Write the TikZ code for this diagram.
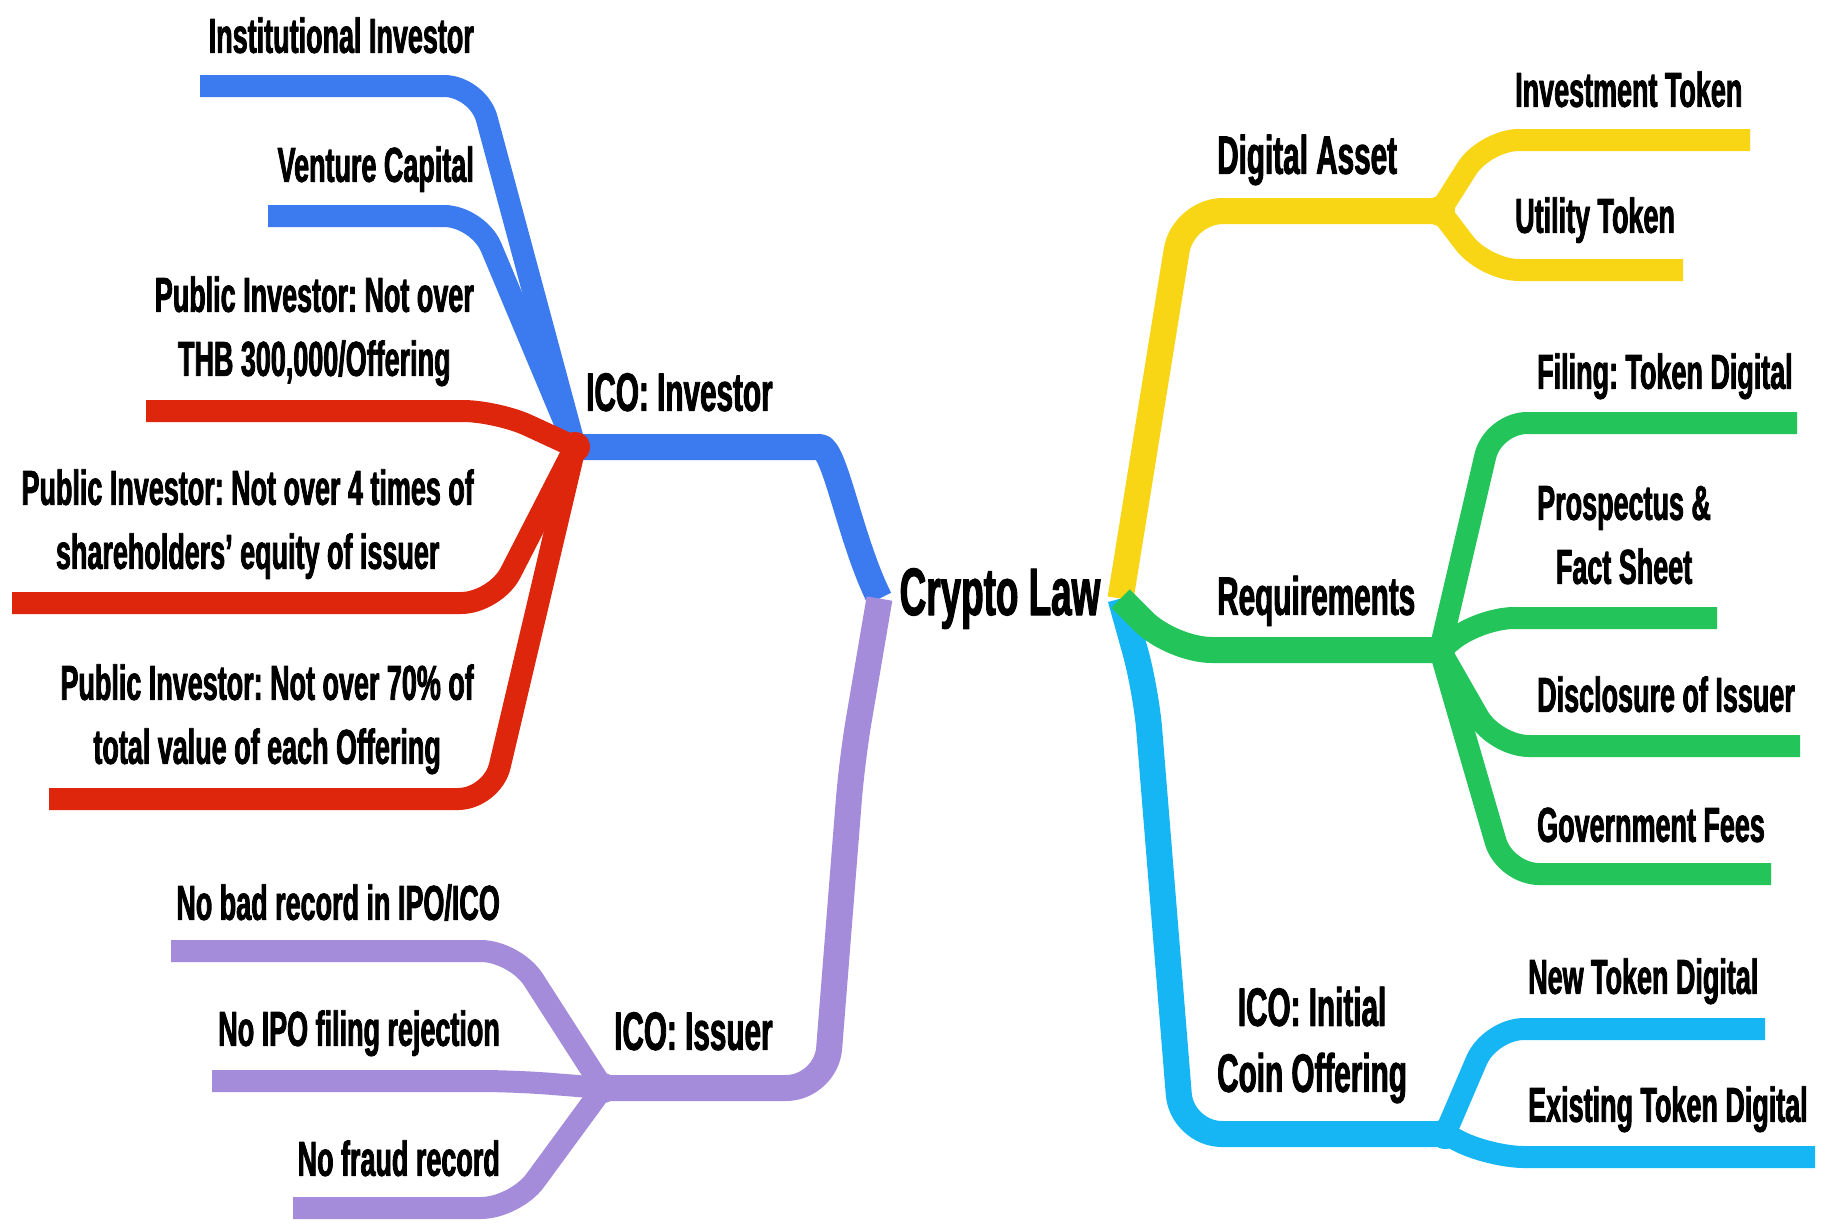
\documentclass[tikz,border=0pt]{standalone}
\usepackage{fontspec}
\setmainfont{Liberation Sans}[FakeStretch=0.55, BoldFeatures={FakeBold=1.6}]
\frenchspacing
\usetikzlibrary{positioning}
\definecolor{invblue}{RGB}{60,122,240}
\definecolor{invred}{RGB}{221,38,12}
\definecolor{isslilac}{RGB}{165,140,218}
\definecolor{assetyellow}{RGB}{248,214,22}
\definecolor{reqgreen}{RGB}{35,196,90}
\definecolor{icocyan}{RGB}{22,182,245}
% one child line: colour, junction, bend offset, free end
\newcommand\twig[4]{\draw[twig, #1] (#2) -- ([xshift=#3]#2 |- #4) -- (#4);}

\begin{document}
\begin{tikzpicture}[x=1pt, y=-1pt, line join=round,
					limb/.style={line width=26pt, rounded corners=40pt,
						preaction={draw=black!6, transform canvas={xshift=2pt,yshift=-7pt}}},
					twig/.style={line width=22pt, rounded corners=34pt,
						preaction={draw=black!6, transform canvas={xshift=2pt,yshift=-7pt}}},
					knot/.style={circle, inner sep=0pt, minimum size=30pt, fill=#1},
					leaf/.style={font=\fontsize{49}{64}\selectfont\bfseries, inner sep=0pt, text depth=0pt, align=center},
					topic/.style={font=\fontsize{54}{66}\selectfont\bfseries, inner sep=0pt, text depth=0pt, align=center}]
	
	\fill[white] (0,0) rectangle (1829,1227);
	\useasboundingbox (0,0) rectangle (1829,1227);
	
	% centre
	\node (law) [font=\fontsize{67}{70}\selectfont\bfseries, inner sep=0pt, anchor=base] at (1000,615) {Crypto Law};
	\coordinate (law-l) at ([xshift=-20]law.west);
	\coordinate (law-r) at ([xshift=20]law.east);
	
	% junctions
	\coordinate (inv-j) at (575,447);
	\coordinate (iss-j) at (603,1088);
	\coordinate (da-j) at (1440,211);
	\coordinate (req-j) at (1440,650);
	\coordinate (ico-j) at (1445,1134);
	
	% free ends
	\coordinate (inst-e) at (200,86);
	\coordinate (vc-e) at (268,216);
	\coordinate (thb-e) at (146,411);
	\coordinate (four-e) at (12,603);
	\coordinate (pct-e) at (49,799);
	\coordinate (bad-e) at (171,951);
	\coordinate (rej-e) at (212,1081);
	\coordinate (fraud-e) at (293,1208);
	\coordinate (itok-e) at (1750,140);
	\coordinate (utok-e) at (1683,270);
	\coordinate (fil-e) at (1797,423);
	\coordinate (pro-e) at (1717,618);
	\coordinate (dis-e) at (1800,746);
	\coordinate (gov-e) at (1771,874);
	\coordinate (new-e) at (1765,1029);
	\coordinate (old-e) at (1815,1157);
	
	% main branches
	\draw[limb, invblue] (law-l) .. controls (850,540) and (835,447) .. (780,447) -- (inv-j);
	\draw[limb, isslilac] (law-l) -- (852,760) -- (826,1088) -- (iss-j);
	\draw[limb, icocyan] (law-r) -- (1146,690) -- (1182,1134) -- (ico-j);
	\draw[limb, assetyellow] (law-r) -- (1183,211) -- (da-j);
	\draw[limb, reqgreen] (law-r) -- (1172,650) -- (req-j);
	
	% child branches
	\twig{invblue}{inv-j}{-97}{inst-e}
	\twig{invblue}{inv-j}{-97}{vc-e}
	\twig{invred}{inv-j}{-78}{thb-e}
	\twig{invred}{inv-j}{-80}{four-e}
	\twig{invred}{inv-j}{-83}{pct-e}
	\twig{isslilac}{iss-j}{-88}{bad-e}
	\twig{isslilac}{iss-j}{-88}{rej-e}
	\twig{isslilac}{iss-j}{-88}{fraud-e}
	\twig{assetyellow}{da-j}{45}{itok-e}
	\twig{assetyellow}{da-j}{45}{utok-e}
	\twig{reqgreen}{req-j}{53}{fil-e}
	\twig{reqgreen}{req-j}{40}{pro-e}
	\twig{reqgreen}{req-j}{55}{dis-e}
	\twig{reqgreen}{req-j}{65}{gov-e}
	\twig{icocyan}{ico-j}{45}{new-e}
	\twig{icocyan}{ico-j}{45}{old-e}
	
	\node[knot=invred] (inv-k) at (inv-j) {};
	\node[knot=isslilac] (iss-k) at (iss-j) {};
	\node[knot=assetyellow] (da-k) at (da-j) {};
	\node[knot=reqgreen] (req-k) at (req-j) {};
	\node[knot=icocyan] (ico-k) at (ico-j) {};
	
	% topics
	\node[topic, anchor=south west] (inv) at (586,411) {ICO: Investor};
	\node[topic, anchor=south west] (iss) at (614,1050) {ICO: Issuer};
	\node[topic, anchor=south west] (da) at (1217,174) {Digital Asset};
	\node[topic, anchor=south west] (req) at (1217,615) {Requirements};
	\node[topic, anchor=south west] (ico) at (1217,1092) {ICO: Initial\\Coin Offering};
	
	% leaves
	\node[leaf, anchor=south east] (inst) at (474,53) {Institutional Investor};
	\node[leaf, anchor=south east] (vc) at (474,182) {Venture Capital};
	\node[leaf, anchor=south east] (thb) at (474,376) {Public Investor: Not over\\THB 300,000/Offering};
	\node[leaf, anchor=south east] (four) at (474,569) {Public Investor: Not over 4 times of\\shareholders' equity of issuer};
	\node[leaf, anchor=south east] (pct) at (474,764) {Public Investor: Not over 70\% of\\total value of each Offering};
	\node[leaf, anchor=south east] (bad) at (500,920) {No bad record in IPO/ICO};
	\node[leaf, anchor=south east] (rej) at (500,1046) {No IPO filing rejection};
	\node[leaf, anchor=south east] (fraud) at (500,1176) {No fraud record};
	\node[leaf, anchor=south west] (itok) at (1515,107) {Investment Token};
	\node[leaf, anchor=south west] (utok) at (1515,233) {Utility Token};
	\node[leaf, anchor=south west] (fil) at (1537,389) {Filing: Token Digital};
	\node[leaf, anchor=south west] (pro) at (1537,584) {Prospectus \&\\Fact Sheet};
	\node[leaf, anchor=south west] (dis) at (1537,712) {Disclosure of Issuer};
	\node[leaf, anchor=south west] (gov) at (1537,842) {Government Fees};
	\node[leaf, anchor=south west] (new) at (1528,994) {New Token Digital};
	\node[leaf, anchor=south west] (old) at (1528,1122) {Existing Token Digital};
\end{tikzpicture}
\end{document}
